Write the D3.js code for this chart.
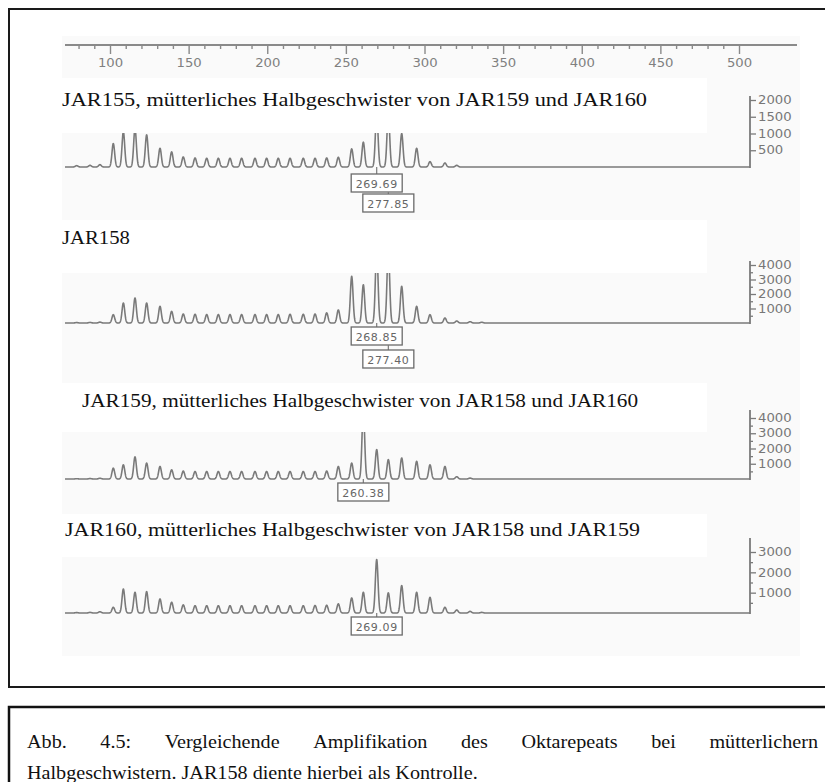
<!DOCTYPE html>
<html><head><meta charset="utf-8">
<script src="https://cdn.jsdelivr.net/npm/d3@7"></script>
<style>body{margin:0;background:#fff;} svg{display:block;}</style>
</head><body>
<svg id="chart" width="825" height="782"></svg>
<script>
// ---------------- DATA ----------------
const axisTicksMajor = [100,150,200,250,300,350,400,450,500];
const axisTicksMinor = d3.range(80, 510, 10).filter(v => v % 50 !== 0);

// fragment sizes (bp) of the octarepeat ladder peaks
const peakSizes = [78.8, 87.3, 93.6, 102.1, 108.5, 115.9, 123.3, 131.8, 139.2, 146.6, 154.1, 161.5,
  168.9, 176.3, 183.7, 192.2, 199.6, 207.0, 214.5, 222.9, 230.4, 237.8, 245.2, 253.7, 261.1,
  269.6, 277.0, 285.5, 295.0, 303.5, 313.0, 320.5, 329.0, 336.4];

const panelTitles = [
  "JAR155, mütterliches Halbgeschwister von JAR159 und JAR160",
  "JAR158",
  "JAR159, mütterliches Halbgeschwister von JAR158 und JAR160",
  "JAR160, mütterliches Halbgeschwister von JAR158 und JAR159"
];

const heightsJAR155 = [40, 50, 70, 700, 1050, 1150, 960, 560, 450, 300, 270, 260, 260, 260, 260, 260, 260,
  260, 260, 260, 260, 270, 290, 540, 740, 1600, 1600, 1000, 560, 160, 120, 50, 0, 0];
const heightsJAR158 = [30, 40, 60, 575, 1380, 1725, 1380, 1150, 800, 620, 600, 580, 580, 580, 580, 580, 580,
  580, 600, 600, 620, 700, 900, 3220, 2640, 5000, 5000, 2530, 1150, 575, 345, 138, 90, 50];
const heightsJAR159 = [20, 30, 50, 710, 930, 1450, 1045, 820, 600, 520, 490, 490, 490, 490, 490, 490, 490,
  490, 490, 490, 490, 520, 820, 1045, 4500, 1930, 1270, 1380, 1160, 930, 820, 150, 60, 0];
const heightsJAR160 = [20, 30, 60, 280, 1180, 1020, 1050, 690, 530, 400, 360, 360, 360, 360, 360, 360, 360,
  360, 360, 360, 370, 380, 450, 740, 1020, 2630, 990, 1350, 1020, 770, 280, 150, 80, 30];
const panelHeights = [heightsJAR155, heightsJAR158, heightsJAR159, heightsJAR160];

const panelYTicks = [[500,1000,1500,2000],[1000,2000,3000,4000],[1000,2000,3000,4000],[1000,2000,3000]];
const panelYMinor = [[], [500,1500,2500,3500], [500,1500,2500,3500], [500,1500,2500]];
const panelYMax = [2000, 4000, 4000, 3000];

// peak call-outs: label text and index of the peak in peakSizes
const calloutsJAR155 = [{label:"269.69", peak:25}, {label:"277.85", peak:26}];
const calloutsJAR158 = [{label:"268.85", peak:25}, {label:"277.40", peak:26}];
const calloutsJAR159 = [{label:"260.38", peak:24}];
const calloutsJAR160 = [{label:"269.09", peak:25}];
const panelCallouts = [calloutsJAR155, calloutsJAR158, calloutsJAR159, calloutsJAR160];

const captionLine1 = ["Abb.","4.5:","Vergleichende","Amplifikation","des","Oktarepeats","bei","mütterlichern"];
const captionLine2 = "Halbgeschwistern. JAR158 diente hierbei als Kontrolle.";

// ---------------- DRAW ----------------
const svg = d3.select("#chart");
const SX = 1.12;                // horizontal stretch of the scanned text
const GRAY = "#7a7a7a";
const serif = "'Liberation Serif','Times New Roman',serif";
const sans = "'DejaVu Sans',sans-serif";

const x = d3.scaleLinear().domain([100, 500]).range([110, 739]);

// outer frame
svg.append("rect").attr("x", 9).attr("y", 9).attr("width", 840).attr("height", 678)
  .attr("fill", "#fff").attr("stroke", "#1a1a1a").attr("stroke-width", 2);

// faint scan background
svg.append("rect").attr("x", 62).attr("y", 36).attr("width", 738).attr("height", 620).attr("fill", "#fafafa");

// top size axis
const gTop = svg.append("g").attr("transform", "translate(0,45)");
gTop.append("line").attr("x1", 65).attr("x2", 797).attr("stroke", "#8a8a8a").attr("stroke-width", 2);
const gMinor = gTop.append("g").call(d3.axisBottom(x).tickValues(axisTicksMinor).tickSize(4).tickFormat(""));
const gMajor = gTop.append("g").call(d3.axisBottom(x).tickValues(axisTicksMajor).tickSize(9).tickPadding(5).tickFormat(d3.format("d")));
[gMinor, gMajor].forEach(g => {
  g.select(".domain").remove();
  g.selectAll(".tick line").attr("stroke", "#8a8a8a").attr("stroke-width", 1.4);
  g.selectAll("text").attr("fill", "#808080").attr("font-family", sans).attr("font-size", 11.5)
    .attr("transform", `scale(1.15,1)`);
});

const layout = [
  {base:167, top:100, clip:133, bandTop:78,  titleX:62, titleY:106, titleW:585, axisTop:96,  boxTop:[174,194]},
  {base:323, top:265, clip:273, bandTop:220, titleX:62, titleY:244, titleW:null, axisTop:261, boxTop:[327,350]},
  {base:479, top:418, clip:432, bandTop:383, titleX:82, titleY:407, titleW:556, axisTop:410, boxTop:[483]},
  {base:613, top:552, clip:557, bandTop:514, titleX:65, titleY:536, titleW:575, axisTop:538, boxTop:[617]}
];

const sigma = 0.85;
const sampleBp = d3.range(x.invert(65), x.invert(750), 0.1);

layout.forEach((L, i) => {
  const y = d3.scaleLinear().domain([0, panelYMax[i]]).range([L.base, L.top]);
  const g = svg.append("g");

  // white title band
  g.append("rect").attr("x", 55).attr("y", L.bandTop).attr("width", 652).attr("height", L.clip - L.bandTop).attr("fill", "#fff");

  // title
  const t = g.append("text").attr("x", L.titleX).attr("y", L.titleY)
    .attr("font-family", serif).attr("font-size", 18.5).attr("fill", "#111").text(panelTitles[i]);
  if (L.titleW) t.attr("textLength", L.titleW).attr("lengthAdjust", "spacingAndGlyphs");
  else {
    const w = t.node().getComputedTextLength();
    t.attr("textLength", w * SX).attr("lengthAdjust", "spacingAndGlyphs");
  }

  // trace
  const cid = "clip" + i;
  svg.append("clipPath").attr("id", cid).append("rect")
    .attr("x", 55).attr("y", L.clip).attr("width", 697).attr("height", L.base - L.clip + 8);
  const hs = panelHeights[i];
  const signal = bp => {
    let s = 0;
    for (let k = 0; k < peakSizes.length; k++) {
      const d = bp - peakSizes[k];
      if (Math.abs(d) < 6) s += hs[k] * Math.exp(-d * d / (2 * sigma * sigma));
    }
    return s;
  };
  const line = d3.line().x(d => x(d)).y(d => y(signal(d)));
  g.append("path").datum(sampleBp).attr("d", line).attr("clip-path", `url(#${cid})`)
    .attr("fill", "none").attr("stroke", GRAY).attr("stroke-width", 1.6).attr("stroke-linejoin", "round");

  // y axis on the right
  const ga = g.append("g").attr("transform", "translate(750,0)");
  ga.append("line").attr("x1", 0).attr("x2", 0).attr("y1", L.base + 1).attr("y2", L.axisTop)
    .attr("stroke", GRAY).attr("stroke-width", 1.8);
  const gMin = ga.append("g").call(d3.axisRight(y).tickValues(panelYMinor[i]).tickSize(3).tickFormat(""));
  const gMaj = ga.append("g").call(d3.axisRight(y).tickValues(panelYTicks[i]).tickSize(6).tickPadding(1).tickFormat(d3.format("d")));
  [gMin, gMaj].forEach(a => {
    a.select(".domain").remove();
    a.selectAll(".tick line").attr("stroke", GRAY).attr("stroke-width", 1.3);
    a.selectAll("text").attr("fill", "#777").attr("font-family", sans).attr("font-size", 11.5)
      .attr("transform", `scale(1.15,1)`);
  });

  // call-out boxes
  panelCallouts[i].forEach((c, k) => {
    const cx = x(peakSizes[c.peak]);
    const top = L.boxTop[k];
    const prevBottom = k === 0 ? L.base : L.boxTop[k - 1] + 18;
    g.append("line").attr("x1", cx).attr("x2", cx).attr("y1", prevBottom).attr("y2", top)
      .attr("stroke", GRAY).attr("stroke-width", 1.2);
    g.append("rect").attr("x", cx - 25.5).attr("y", top).attr("width", 51).attr("height", 18)
      .attr("fill", "#fff").attr("stroke", "#6a6a6a").attr("stroke-width", 1.3);
    g.append("text").attr("x", cx).attr("y", top + 13.5).attr("text-anchor", "middle")
      .attr("font-family", sans).attr("font-size", 11).attr("fill", "#666").attr("letter-spacing", 0.6)
      .text(c.label);
  });
});

// caption box
svg.append("rect").attr("x", 9).attr("y", 707).attr("width", 840).attr("height", 100)
  .attr("fill", "#fff").attr("stroke", "#111").attr("stroke-width", 2.5);

// caption line 1, justified
const capSize = 18;
const words = captionLine1.map(w => {
  const t = svg.append("text").attr("font-family", serif).attr("font-size", capSize).attr("fill", "#111").text(w);
  return {t, w: t.node().getComputedTextLength() * SX};
});
const x0 = 27, x1 = 818;
const total = d3.sum(words, d => d.w);
const gap = (x1 - x0 - total) / (words.length - 1);
let cx = x0;
words.forEach(d => {
  d.t.attr("transform", `translate(${cx},748) scale(${SX},1)`);
  cx += d.w + gap;
});
svg.append("text").attr("font-family", serif).attr("font-size", capSize).attr("fill", "#111")
  .attr("transform", `translate(27,779) scale(${SX},1)`).text(captionLine2);
</script>
</body></html>
